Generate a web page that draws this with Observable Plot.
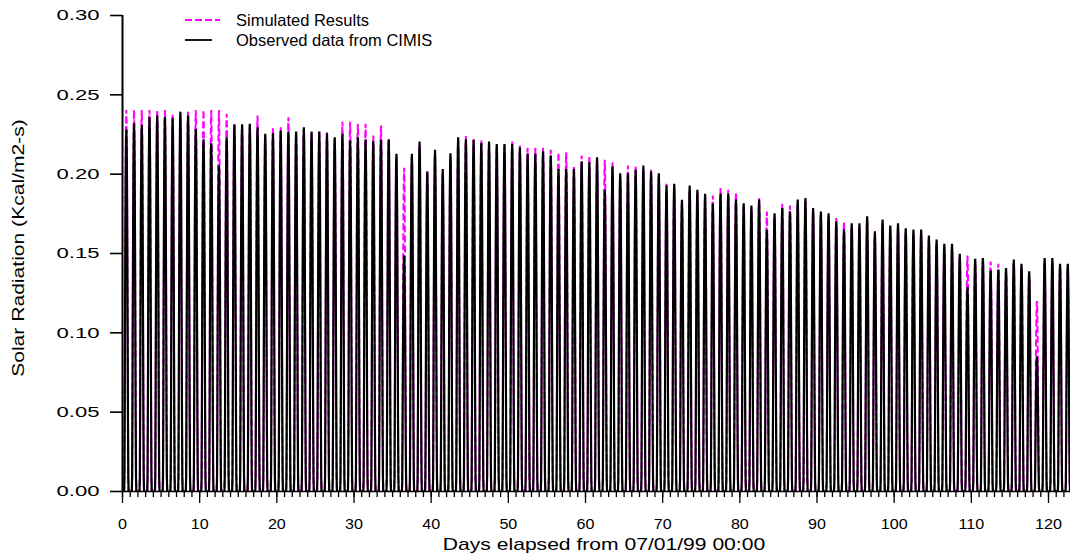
<!DOCTYPE html>
<html>
<head>
<meta charset="utf-8">
<script src="https://cdn.jsdelivr.net/npm/d3@7"></script>
<script src="https://cdn.jsdelivr.net/npm/@observablehq/plot@0.6"></script>
<style>
  body { margin: 0; background: #fff; }
  #chart { position: relative; width: 1070px; height: 559px; font-family: "Liberation Sans", Arial, sans-serif; color: #000; }
  #chart svg { display: block; }
  .legend { position: absolute; left: 185px; font-size: 16.5px; line-height: 16px; white-space: nowrap; display: flex; align-items: center; }
  .legend svg { margin-right: 16px; }
  .title-x { position: absolute; left: 604px; top: 536px; font-size: 17px; line-height: 17px; white-space: nowrap; transform: translateX(-50%) scaleX(1.24); }
  .title-y { position: absolute; left: 18px; top: 248px; font-size: 17px; line-height: 17px; white-space: nowrap; transform: translate(-50%, -50%) rotate(-90deg) scaleX(1.24); }
</style>
</head>
<body>
<div id="chart"></div>
<script>
// Daily peak solar radiation (Kcal/m2-s), day 0 = 07/01/99
const observedPeak = [
  0.228, 0.232, 0.231, 0.236, 0.237, 0.236, 0.2355, 0.2394, 0.237, 0.2285,
  0.222, 0.2195, 0.2054, 0.2233, 0.2315, 0.2315, 0.2317, 0.2296, 0.2254, 0.2258,
  0.2275, 0.2268, 0.2268, 0.2296, 0.2268, 0.2268, 0.2258, 0.2233, 0.2254, 0.2212,
  0.2233, 0.2218, 0.2207, 0.2216, 0.2216, 0.2128, 0.1487, 0.2128, 0.2205, 0.2016,
  0.2153, 0.2033, 0.2132, 0.2233, 0.222, 0.2216, 0.2196, 0.2205, 0.219, 0.219,
  0.219, 0.217, 0.2128, 0.2128, 0.2145, 0.2117, 0.2033, 0.2033, 0.2033, 0.2081,
  0.2075, 0.2107, 0.1901, 0.2048, 0.2006, 0.2006, 0.2027, 0.2054, 0.2016, 0.2006,
  0.1928, 0.1939, 0.1838, 0.1928, 0.1901, 0.1876, 0.1813, 0.1878, 0.1878, 0.184,
  0.1817, 0.1802, 0.184, 0.1651, 0.1754, 0.1787, 0.1764, 0.184, 0.185, 0.1787,
  0.1764, 0.1754, 0.1703, 0.1651, 0.1691, 0.1691, 0.1735, 0.164, 0.1714, 0.1676,
  0.1691, 0.1659, 0.1651, 0.1651, 0.1613, 0.1588, 0.1561, 0.1561, 0.1498, 0.1288,
  0.1466, 0.1472, 0.1393, 0.1399, 0.1409, 0.1462, 0.1435, 0.1388, 0.085, 0.1472,
  0.1472, 0.1435, 0.1435
];
const simulatedPeak = [
  0.2405, 0.2405, 0.2405, 0.2405, 0.2405, 0.2405, 0.238, 0.238, 0.2395, 0.2405,
  0.2405, 0.2405, 0.2405, 0.238, 0.231, 0.2317, 0.231, 0.2369, 0.224, 0.2296,
  0.2296, 0.2359, 0.226, 0.228, 0.226, 0.2275, 0.2264, 0.222, 0.2331, 0.2331,
  0.2317, 0.2317, 0.2243, 0.2306, 0.2229, 0.211, 0.204, 0.211, 0.218, 0.2016,
  0.213, 0.201, 0.211, 0.221, 0.2241, 0.222, 0.2212, 0.219, 0.218, 0.218,
  0.2205, 0.218, 0.2166, 0.2166, 0.2166, 0.2153, 0.2138, 0.2138, 0.2054, 0.2117,
  0.2117, 0.209, 0.209, 0.2075, 0.199, 0.2054, 0.2054, 0.203, 0.2027, 0.199,
  0.1939, 0.192, 0.182, 0.19, 0.188, 0.186, 0.1865, 0.1913, 0.1901, 0.1886,
  0.18, 0.178, 0.1848, 0.1764, 0.173, 0.1813, 0.1802, 0.182, 0.183, 0.177,
  0.174, 0.173, 0.1724, 0.1701, 0.167, 0.167, 0.171, 0.162, 0.169, 0.165,
  0.167, 0.163, 0.163, 0.163, 0.159, 0.156, 0.154, 0.154, 0.148, 0.1487,
  0.1445, 0.1472, 0.145, 0.1435, 0.139, 0.144, 0.141, 0.136, 0.12, 0.145,
  0.145, 0.141, 0.141
];
// Typical hourly shape of a day's radiation, as a fraction of that day's peak (hours 0-23)
const hourlyShape = [
  0, 0, 0, 0, 0, 0, 0.04, 0.24, 0.5, 0.72,
  0.88, 0.97, 1.0, 0.96, 0.85, 0.66, 0.43, 0.2, 0.04, 0,
  0, 0, 0, 0
];
const yTicks = [0, 0.05, 0.10, 0.15, 0.20, 0.25, 0.30];
const xTicks = [0, 10, 20, 30, 40, 50, 60, 70, 80, 90, 100, 110, 120];
const dayTicks = d3.range(0, 123);

function hourly(peaks) {
  const rows = [];
  peaks.forEach((p, d) => hourlyShape.forEach((f, h) => rows.push({t: d + h / 24, v: p * f})));
  return rows;
}
const simulated = hourly(simulatedPeak);
const observed = hourly(observedPeak);

const chart = Plot.plot({
  width: 1070,
  height: 559,
  marginTop: 15,
  marginBottom: 68,
  marginLeft: 122,
  marginRight: 0,
  style: {fontFamily: "'Liberation Sans', Arial, sans-serif", background: "#fff", color: "#000", overflow: "visible"},
  x: {domain: [0, 122.85]},
  y: {domain: [0, 0.30]},
  marks: [
    Plot.line(simulated, {x: "t", y: "v", stroke: "#ff00ff", strokeWidth: 2, strokeDasharray: "7,3", strokeLinejoin: "miter", strokeLinecap: "butt", clip: true}),
    Plot.line(observed, {x: "t", y: "v", stroke: "#000", strokeWidth: 2.2, strokeLinejoin: "bevel", strokeLinecap: "butt", clip: true}),
    Plot.ruleY([0], {stroke: "#000", strokeWidth: 1.6}),
    Plot.ruleX([0], {stroke: "#000", strokeWidth: 2}),
    Plot.axisY({ticks: yTicks, tickSize: 12, tickPadding: 11, tickFormat: d3.format(".2f"), fontSize: 15, strokeWidth: 1.6, label: null}),
    Plot.axisX({ticks: dayTicks, tickSize: 6, tickFormat: () => "", strokeWidth: 1.3, label: null}),
    Plot.axisX({ticks: xTicks, tickSize: 12, tickPadding: 16, fontSize: 14, strokeWidth: 1.3, label: null})
  ]
});

const root = document.getElementById("chart");
root.appendChild(chart);

// Stretch tick labels horizontally to the wide lettering of the axes
chart.querySelectorAll('g[aria-label="y-axis tick label"] text').forEach(t => {
  t.setAttribute("textLength", 43);
  t.setAttribute("lengthAdjust", "spacingAndGlyphs");
});
chart.querySelectorAll('g[aria-label="x-axis tick label"] text').forEach(t => {
  const w = t.getComputedTextLength();
  if (w > 0) {
    t.setAttribute("textLength", (w * 1.15).toFixed(1));
    t.setAttribute("lengthAdjust", "spacingAndGlyphs");
  }
});

// Legend
const legendItems = [
  {label: "Simulated Results", color: "#ff00ff", dash: "7,3", len: 35, top: 12},
  {label: "Observed data from CIMIS", color: "#000", dash: null, len: 27, top: 32}
];
for (const item of legendItems) {
  const row = document.createElement("div");
  row.className = "legend";
  row.style.top = item.top + "px";
  const sw = d3.create("svg").attr("width", 35).attr("height", 16);
  sw.append("line").attr("x1", 0).attr("x2", item.len).attr("y1", 8).attr("y2", 8)
    .attr("stroke", item.color).attr("stroke-width", 1.8)
    .attr("stroke-dasharray", item.dash);
  row.appendChild(sw.node());
  const span = document.createElement("span");
  span.textContent = item.label;
  row.appendChild(span);
  root.appendChild(row);
}

// Axis titles
const xt = document.createElement("div");
xt.className = "title-x";
xt.textContent = "Days elapsed from 07/01/99 00:00";
root.appendChild(xt);
const yt = document.createElement("div");
yt.className = "title-y";
yt.textContent = "Solar Radiation (Kcal/m2-s)";
root.appendChild(yt);
</script>
</body>
</html>
